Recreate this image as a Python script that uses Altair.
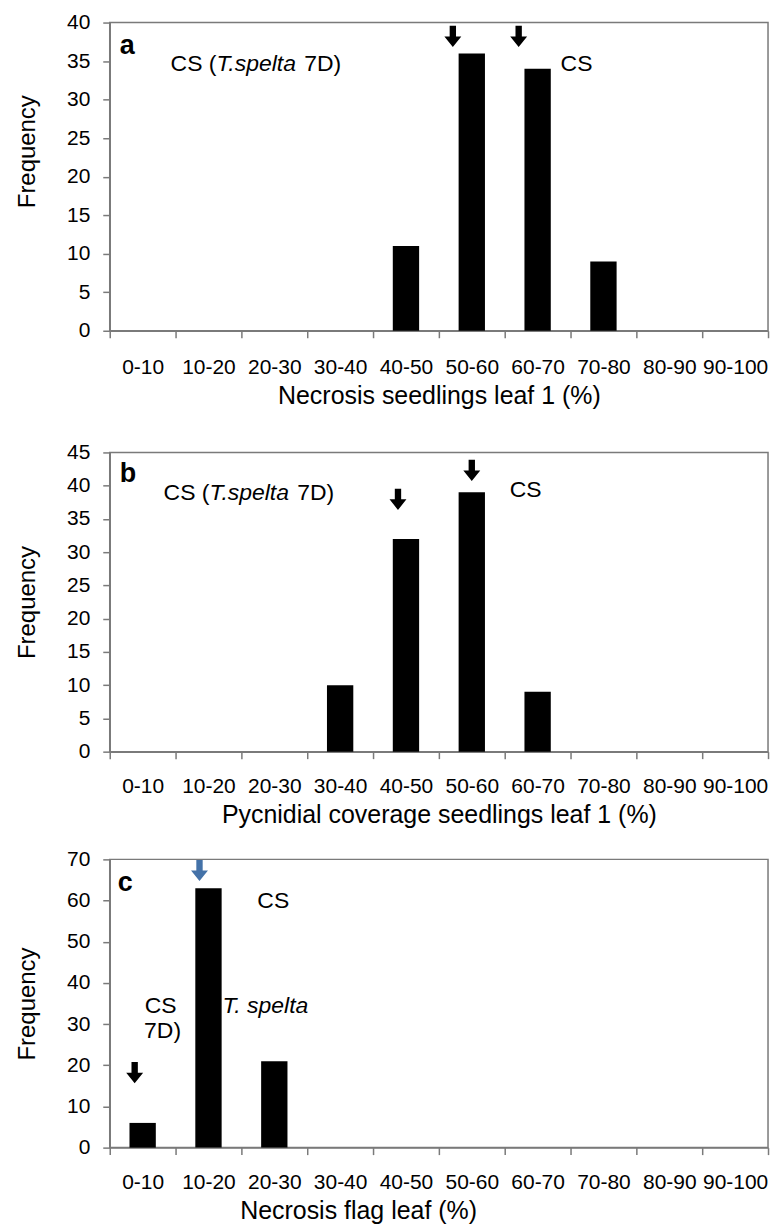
import altair as alt
import pandas as pd

# ---------------- data ----------------
cats = ["0-10", "10-20", "20-30", "30-40", "40-50",
        "50-60", "60-70", "70-80", "80-90", "90-100"]

freq_a = [0, 0, 0, 0, 11, 36, 34, 9, 0, 0]
freq_b = [0, 0, 0, 10, 32, 39, 9, 0, 0, 0]
freq_c = [6, 63, 21, 0, 0, 0, 0, 0, 0, 0]

yticks_a = [0, 5, 10, 15, 20, 25, 30, 35, 40]
yticks_b = [0, 5, 10, 15, 20, 25, 30, 35, 40, 45]
yticks_c = [0, 10, 20, 30, 40, 50, 60, 70]

xtitle_a = "Necrosis seedlings leaf 1 (%)"
xtitle_b = "Pycnidial coverage  seedlings leaf 1 (%)"
xtitle_c = "Necrosis flag leaf (%)"
ytitle = "Frequency"

# annotation texts, anchored at (category, frequency value)
ann_a_txt = ["a", "CS (", "T.spelta", "7D)", "CS"]
ann_a_cat = ["0-10", "0-10", "0-10", "0-10", "60-70"]
ann_a_val = [37.0, 34.6, 34.6, 34.6, 34.6]
arr_a_cat = ["50-60", "60-70"]
arr_a_val = [38.2, 38.2]

ann_b_txt = ["b", "CS (", "T.spelta", "7D)", "CS"]
ann_b_cat = ["0-10", "0-10", "0-10", "0-10", "50-60"]
ann_b_val = [41.8, 38.85, 38.85, 38.85, 39.3]
arr_b_cat = ["40-50", "50-60"]
arr_b_val = [37.95, 42.3]

ann_c_txt = ["c", "CS", "CS", "7D)", "T. spelta"]
ann_c_cat = ["0-10", "20-30", "0-10", "0-10", "10-20"]
ann_c_val = [64.2, 60.0, 34.5, 28.4, 34.5]
arr_c_cat = ["10-20", "0-10"]
arr_c_val = [67.3, 18.2]

# ---------------- styles ----------------
FONT = "Liberation Sans, Arial, Helvetica, sans-serif"
AXIS_GRAY = "#7a7a7a"
ARROW = "M-0.3,-1L0.3,-1L0.3,0L0.8,0L0,1L-0.8,0L-0.3,0Z"
BLUE = "#4472a8"

# per annotation style: (dx, align, weight, fontStyle, size)
sty_a = [(-23, "left", "bold", "normal", 27), (28, "left", "normal", "normal", 23),
         (74, "left", "normal", "italic", 23), (162, "left", "normal", "normal", 23),
         (39, "center", "normal", "normal", 23)]
sty_b = [(-23, "left", "bold", "normal", 27), (21, "left", "normal", "normal", 23),
         (67, "left", "normal", "italic", 23), (155, "left", "normal", "normal", 23),
         (54, "center", "normal", "normal", 23)]
sty_c = [(-25, "left", "bold", "normal", 27), (-1, "center", "normal", "normal", 23),
         (18, "center", "normal", "normal", 23), (20, "center", "normal", "normal", 23),
         (14, "left", "normal", "italic", 23)]
arr_sty_a = [(-19, "black"), (-19, "black")]
arr_sty_b = [(-8, "black"), (0, "black")]
arr_sty_c = [(-9, BLUE), (-8, "black")]


def panel(freqs, yticks, height, xtitle, ann_txt, ann_cat, ann_val, sty,
          arr_cat, arr_val, arr_sty, lab_pad, title_x=None, title_y=None):
    rows = [dict(cat=c, val=v, kind="bar", id="bar", txt="") for c, v in zip(cats, freqs)]
    for i, (t, c, v) in enumerate(zip(ann_txt, ann_cat, ann_val)):
        rows.append(dict(cat=c, val=v, kind="txt", id=f"t{i}", txt=t))
    for i, (c, v) in enumerate(zip(arr_cat, arr_val)):
        rows.append(dict(cat=c, val=v, kind="arr", id=f"a{i}", txt=""))
    df = pd.DataFrame(rows)

    xaxis_kw = dict(
        title=xtitle, tickBand="extent", labelAngle=0, labelOverlap=False,
        labelFontSize=21, labelFont=FONT, labelColor="black", labelPadding=lab_pad,
        tickSize=7, tickColor=AXIS_GRAY, tickWidth=1.5,
        domainColor=AXIS_GRAY, domainWidth=1.5,
        titleFontSize=25, titleFont=FONT, titleFontWeight="normal",
        titleColor="black", titlePadding=6, grid=False,
    )
    if title_x is not None:
        xaxis_kw["titleX"] = title_x
    yaxis_kw = dict(
        values=yticks, title=ytitle, grid=False,
        labelFontSize=21, labelFont=FONT, labelColor="black",
        labelPadding=13, tickSize=7, tickColor=AXIS_GRAY, tickWidth=1.5,
        domainColor=AXIS_GRAY, domainWidth=1.5,
        titleFontSize=24, titleFont=FONT, titleFontWeight="normal",
        titleColor="black", titlePadding=27,
    )
    if title_y is not None:
        yaxis_kw["titleY"] = title_y

    base = alt.Chart(df).encode(
        x=alt.X("cat:N", sort=cats, scale=alt.Scale(paddingInner=0, paddingOuter=0),
                axis=alt.Axis(**xaxis_kw)),
        y=alt.Y("val:Q", scale=alt.Scale(domain=[yticks[0], yticks[-1]], nice=False, zero=True),
                axis=alt.Axis(**yaxis_kw)),
    )

    layers = [
        base.mark_bar(color="black", width=alt.RelativeBandSize(0.4))
        .transform_filter(alt.datum.kind == "bar")
    ]
    for i, (dx, align, weight, fstyle, size) in enumerate(sty):
        layers.append(
            base.mark_text(dx=dx, align=align, baseline="middle", fontWeight=weight,
                           fontStyle=fstyle, fontSize=size, font=FONT, color="black")
            .encode(text="txt:N")
            .transform_filter(alt.datum.id == f"t{i}")
        )
    for i, (xo, col) in enumerate(arr_sty):
        layers.append(
            base.mark_point(shape=ARROW, filled=True, fill=col, color=col, opacity=1,
                            size=450, strokeWidth=0, xOffset=xo)
            .transform_filter(alt.datum.id == f"a{i}")
        )
    return alt.layer(*layers).properties(width=660, height=height)


pa = panel(freq_a, yticks_a, 309, xtitle_a, ann_a_txt, ann_a_cat, ann_a_val, sty_a,
           arr_a_cat, arr_a_val, arr_sty_a, lab_pad=19, title_y=129)
pb = panel(freq_b, yticks_b, 300, xtitle_b, ann_b_txt, ann_b_cat, ann_b_val, sty_b,
           arr_b_cat, arr_b_val, arr_sty_b, lab_pad=17)
pc = panel(freq_c, yticks_c, 289, xtitle_c, ann_c_txt, ann_c_cat, ann_c_val, sty_c,
           arr_c_cat, arr_c_val, arr_sty_c, lab_pad=17, title_x=249)

chart = (
    alt.vconcat(pa, alt.vconcat(pb, pc, spacing=19), spacing=31)
    .properties(padding={"left": 6, "top": 1, "right": 5, "bottom": 5}, background="white")
    .configure_view(stroke=AXIS_GRAY, strokeWidth=1.5)
)

chart.save("out.html", embed_options={"renderer": "svg", "actions": False})
